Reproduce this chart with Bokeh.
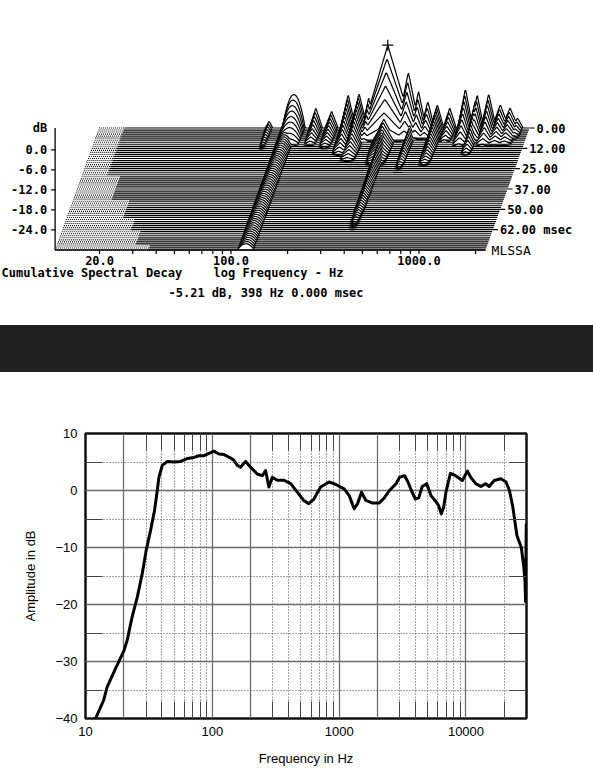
import numpy as np
from bokeh.plotting import figure
from bokeh.models import Range1d, FixedTicker, LogAxis, LinearAxis, Div
from bokeh.layouts import column
from bokeh.embed import file_html
from bokeh.resources import INLINE
from bokeh.core.properties import value

# ===================== DATA: cumulative spectral decay (MLSSA) =====================
CSD_FLOOR_DB = -30.0          # display floor, dB
CSD_F_START = 11.6            # Hz, left end of every slice
CSD_F_END = 2260.0            # Hz, right end of every slice
CSD_T_END = 75.0              # ms, time of the front slice
CSD_N_SLICES = 61

# lowest valid frequency (solid line starts here) as time goes on
CSD_CUT_T = [0.0, 28.8, 45.0, 55.4, 63.6, 71.6]
CSD_CUT_F = [15.8, 18.5, 23.1, 26.9, 30.4, 36.4]

# resonances read off the waterfall: centre (Hz), level at t=0 (dB),
# time to fall to the floor (ms), half width (decades)
RES_F = [93, 120, 126, 165, 200, 245, 280, 315, 398, 400, 405, 512, 545, 580,
         650, 730, 850, 1030, 1160, 1190, 1370, 1580, 1780, 1950]
RES_L = [-28, -27, -20, -24, -25, -20, -19.7, -21, -5.21, -21, -24, -13.3, -25, -19,
         -22, -23, -24, -18.2, -22, -20, -19.7, -23, -24, -27]
RES_TAU = [15, 200, 12, 12, 14, 18, 22, 10, 9, 25, 65, 9, 28, 8,
           8, 25, 10, 12, 18, 10, 12, 12, 12, 8]
RES_W = [0.02, 0.045, 0.06, 0.035, 0.035, 0.04, 0.045, 0.035, 0.13, 0.06, 0.03, 0.06, 0.025, 0.04,
         0.035, 0.035, 0.035, 0.04, 0.03, 0.035, 0.04, 0.045, 0.045, 0.03]
RES_ROUND = [120, 126]        # these ridges have rounded tops

PEAK_F, PEAK_DB = 398.0, -5.21

CSD_XTICKS = [20, 30, 40, 50, 60, 70, 80, 90, 100, 200, 300, 400, 500, 600, 700, 800, 900, 1000, 2000]
CSD_XLABELS = {20: "20.0", 100: "100.0", 1000: "1000.0"}
CSD_YTICKS = [0, -6, -12, -18, -24]
CSD_TTICKS = [0, 12.5, 25, 37.5, 50, 62.5]
CSD_TLABELS = ["0.00", "12.00", "25.00", "37.00", "50.00", "62.00 msec"]

# ===================== DATA: frequency response =====================
FR_FREQ = [12, 13.9, 14.8, 17.2, 20.1, 21.3, 23.3, 25.6, 28, 30.1, 32.6, 35, 36.8, 37.9, 40.3,
           44.2, 49.9, 56.2, 63.5, 71.6, 78.4, 86, 94.1, 102.8, 112.6, 123.5, 139.5, 148, 157.5,
           167, 183, 200, 226, 248, 263, 279, 297, 326, 367, 415, 467, 526, 576, 632, 714, 833,
           941, 1095, 1200, 1313, 1398, 1501, 1625, 1834, 2069, 2270, 2490, 2816, 2990, 3280,
           3490, 3710, 3990, 4240, 4520, 4900, 5300, 5700, 6070, 6380, 6670, 6950, 7540, 8270,
           9360, 10270, 10900, 11950, 13100, 14300, 15200, 16700, 18900, 20700, 22000, 23400,
           25200, 27300, 28600, 29200, 29500, 29700, 29900]
FR_DB = [-40, -36.8, -34.5, -31.3, -28.1, -26.3, -22.2, -18.7, -14.6, -10.5, -7, -3.5, 0, 2.3, 4.4,
         5.1, 5.0, 5.1, 5.6, 5.8, 6.1, 6.1, 6.5, 6.9, 6.4, 6.3, 5.7, 5.3, 4.4,
         4.1, 5.1, 4.1, 2.9, 2.6, 3.5, 0.6, 2.3, 1.8, 1.8, 1.2, -0.3, -1.75, -2.3, -1.5, 0.6, 1.5,
         1.05, 0.3, -0.9, -3.2, -2.3, -0.3, -1.75, -2.2, -2.2, -1.3, 0, 1.2, 2.3, 2.6,
         1.5, 0, -1.5, -1.3, 0.7, 1.2, -0.9, -1.75, -2.6, -4.1, -2.9, -0.3, 3.0, 2.6,
         1.75, 3.4, 2.3, 1.2, 0.7, 1.2, 0.7, 1.75, 2.05, 1.5, 0, -2.9,
         -7.9, -10, -13.5, -16, -19.5, -12, -5.8]

FR_XMAJOR = [10, 20, 100, 200, 1000, 2000, 10000]
FR_XLABELS = {10: "10", 20: "", 100: "100", 200: "", 1000: "1000", 2000: "", 10000: "10000"}
FR_XMINOR = [30, 40, 50, 60, 70, 80, 90, 300, 400, 500, 600, 700, 800, 900,
             3000, 4000, 5000, 6000, 7000, 8000, 9000, 20000]
FR_YMAJOR = [-40, -30, -20, -10, 0, 10]
FR_YMINOR = [-35, -25, -15, -5, 5]

# ===================== LAYOUT =====================
W = 593
TOP_H, BAND_H, BOT_H = 325, 47, 404
PX_DEC, X_100 = 188.0, 230.5       # px per decade, page x of 100 Hz (front slice)
PX_DB, Y_0DB = 3.34, 149.3         # px per dB, page y of 0 dB (front slice)
DEPTH_DX, DEPTH_DY = 44.0, 122.0   # offset of back slice vs front slice, px
SHIFT_DEC = DEPTH_DX / PX_DEC
SHIFT_DB = DEPTH_DY / PX_DB

MONO = value("DejaVu Sans Mono")
SANS = "Liberation Sans"


def page_to_f(X):
    return 10 ** (2 + (X - X_100) / PX_DEC)


def page_to_db(Y):
    return (Y_0DB - Y) / PX_DB


def proj(f, db, t):
    k = 1.0 - np.asarray(t, float) / CSD_T_END
    return np.asarray(f, float) * 10 ** (k * SHIFT_DEC), np.asarray(db, float) + k * SHIFT_DB


def no_align(p):
    if "frame_align" in p.properties():
        p.frame_align = False


# ---------- top: waterfall ----------
p1 = figure(width=W, height=TOP_H, x_axis_type="log",
            x_range=Range1d(page_to_f(0), page_to_f(W)),
            y_range=Range1d(page_to_db(TOP_H), page_to_db(0)),
            x_axis_location=None, y_axis_location=None,
            toolbar_location=None, output_backend="svg",
            min_border=0, min_border_left=0, min_border_right=0,
            min_border_top=0, min_border_bottom=0, outline_line_color=None,
            background_fill_color="white", border_fill_color="white")
no_align(p1)
p1.grid.grid_line_color = None
for g in p1.center:
    g.visible = False

FL = CSD_FLOOR_DB
times = np.linspace(0.0, CSD_T_END, CSD_N_SLICES)
sl_xs, sl_ys, dot_xs, dot_ys = [], [], [], []
for t in times:
    cut = CSD_CUT_F[int(np.searchsorted(CSD_CUT_T, t, side="right")) - 1]
    f = np.logspace(np.log10(cut), np.log10(CSD_F_END), 560)
    lf = np.log10(f)
    lvl = np.full_like(f, FL)
    for fr, L, tau, w in zip(RES_F, RES_L, RES_TAU, RES_W):
        if t >= tau:
            continue
        lt = L - (L - FL) * t / tau
        d = np.abs(lf - np.log10(fr)) / w
        shape = np.clip(1 - d * d, 0, None) if fr in RES_ROUND else np.clip(1 - d, 0, None)
        lvl = np.maximum(lvl, FL + (lt - FL) * shape)
    cx, cy = proj(f, lvl, t)
    bx, by = proj([CSD_F_END, cut], [FL, FL], t)
    sl_xs.append(np.concatenate([cx, bx]))
    sl_ys.append(np.concatenate([cy, by]))
    dx, dy = proj([CSD_F_START, cut], [FL, FL], t)
    dot_xs.append(dx)
    dot_ys.append(dy)

p1.multi_line(xs=dot_xs, ys=dot_ys, line_color="black", line_width=1.1, line_dash="1 1")
p1.patches(xs=sl_xs, ys=sl_ys, fill_color="white", line_color="black", line_width=1.2)

# peak cursor
pkx, pky = proj([PEAK_F], [PEAK_DB], 0.0)
p1.scatter(pkx, pky, marker="cross", size=11, line_color="black", line_width=1.2)

# left dB axis
back_floor = FL + SHIFT_DB
p1.segment(x0=[CSD_F_START], y0=[FL], x1=[CSD_F_START], y1=[back_floor], line_color="black", line_width=1.3)
tick_f = CSD_F_START * 10 ** (-4 / PX_DEC)
p1.segment(x0=[tick_f] * len(CSD_YTICKS), y0=CSD_YTICKS, x1=[CSD_F_START] * len(CSD_YTICKS), y1=CSD_YTICKS,
           line_color="black", line_width=1.2)
p1.text(x=[CSD_F_START] * (len(CSD_YTICKS) + 1), y=CSD_YTICKS + [back_floor],
        text=["%.1f" % v for v in CSD_YTICKS] + ["dB"], x_offset=-8,
        text_font=MONO, text_font_size=value("12px"), text_font_style="bold",
        text_align="right", text_baseline="middle", text_color="black")

# bottom frequency axis
p1.segment(x0=[CSD_F_START], y0=[FL], x1=[CSD_F_END], y1=[FL], line_color="black", line_width=1.3)
p1.segment(x0=CSD_XTICKS, y0=[FL] * len(CSD_XTICKS), x1=CSD_XTICKS,
           y1=[FL - 4 / PX_DB] * len(CSD_XTICKS), line_color="black", line_width=1.2)
lab_f = list(CSD_XLABELS.keys())
p1.text(x=lab_f, y=[FL] * len(lab_f), text=[CSD_XLABELS[k] for k in lab_f], y_offset=6,
        text_font=MONO, text_font_size=value("12px"), text_font_style="bold",
        text_align="center", text_baseline="top", text_color="black")

# time labels along the slanted right edge
t_all = CSD_TTICKS + [CSD_T_END]
ex, ey = proj([CSD_F_END] * len(t_all), [FL] * len(t_all), t_all)
p1.segment(x0=ex[:-1], y0=ey[:-1], x1=ex[:-1] * 10 ** (5 / PX_DEC), y1=ey[:-1],
           line_color="black", line_width=1.2)
p1.text(x=ex[:-1], y=ey[:-1], text=CSD_TLABELS, x_offset=7,
        text_font=MONO, text_font_size=value("12px"), text_font_style="bold",
        text_align="left", text_baseline="middle", text_color="black")
p1.text(x=ex[-1:], y=ey[-1:], text=["MLSSA"], x_offset=6,
        text_font=MONO, text_font_size=value("13px"),
        text_align="left", text_baseline="middle", text_color="black")

# captions
p1.text(x=[page_to_f(1), page_to_f(213)], y=[page_to_db(272)] * 2,
        text=["Cumulative Spectral Decay", "log Frequency - Hz"],
        text_font=MONO, text_font_size=value("12px"), text_font_style="bold",
        text_align="left", text_baseline="middle", text_color="black")
p1.text(x=[page_to_f(168)], y=[page_to_db(292)],
        text=["%.2f dB, %d Hz 0.000 msec" % (PEAK_DB, PEAK_F)],
        text_font=MONO, text_font_size=value("12px"), text_font_style="bold",
        text_align="left", text_baseline="middle", text_color="black")

# ---------- dark band ----------
band = Div(text="", width=W, height=BAND_H, margin=0,
           styles={"background-color": "#212121"})

# ---------- bottom: frequency response ----------
p2 = figure(width=W, height=BOT_H, x_axis_type="log",
            x_range=Range1d(10, 30000), y_range=Range1d(-40, 10),
            toolbar_location=None, output_backend="svg",
            min_border_left=85, min_border_right=67, min_border_top=61, min_border_bottom=58,
            outline_line_color="#111111", outline_line_width=2.5,
            background_fill_color="white", border_fill_color="white",
            x_axis_label="Frequency in Hz", y_axis_label="Amplitude in dB")
no_align(p2)

bottom_ax = p2.below[0]
left_ax = p2.left[0]
xt = FixedTicker(ticks=FR_XMAJOR, minor_ticks=FR_XMINOR)
yt = FixedTicker(ticks=FR_YMAJOR, minor_ticks=FR_YMINOR)
bottom_ax.ticker = xt
left_ax.ticker = yt
bottom_ax.major_label_overrides = FR_XLABELS

top_ax = LogAxis(ticker=xt, major_label_overrides={v: "" for v in FR_XMAJOR})
right_ax = LinearAxis(ticker=yt, major_label_overrides={v: "" for v in FR_YMAJOR})
p2.add_layout(top_ax, "above")
p2.add_layout(right_ax, "right")

for ax in (bottom_ax, left_ax, top_ax, right_ax):
    ax.axis_line_color = None
    ax.major_tick_in = 0
    ax.major_tick_out = 0
    ax.minor_tick_in = 17
    ax.minor_tick_out = 0
    ax.minor_tick_line_color = "#444444"
    ax.minor_tick_line_width = 1
    ax.major_label_text_font = SANS
    ax.major_label_text_font_size = "13px"
    ax.major_label_text_color = "black"
    ax.axis_label_text_font = SANS
    ax.axis_label_text_font_style = "normal"
    ax.axis_label_text_font_size = "13px"
    ax.axis_label_text_color = "black"
top_ax.major_label_standoff = 0
right_ax.major_label_standoff = 0

bottom_ax.major_label_standoff = 8
left_ax.major_label_standoff = 8
bottom_ax.axis_label_standoff = 12
left_ax.axis_label_standoff = 14

for g in (p2.xgrid, p2.ygrid):
    g.grid_line_color = "#6c6c6c"
    g.grid_line_width = 1.3
    g.minor_grid_line_color = "#4a4a4a"
    g.minor_grid_line_width = 1
    g.minor_grid_line_dash = "1 2"

p2.line(FR_FREQ, FR_DB, line_color="black", line_width=3, line_join="round")

layout = column(p1, band, p2, spacing=0)
open("out.html", "w").write(file_html(layout, INLINE))
